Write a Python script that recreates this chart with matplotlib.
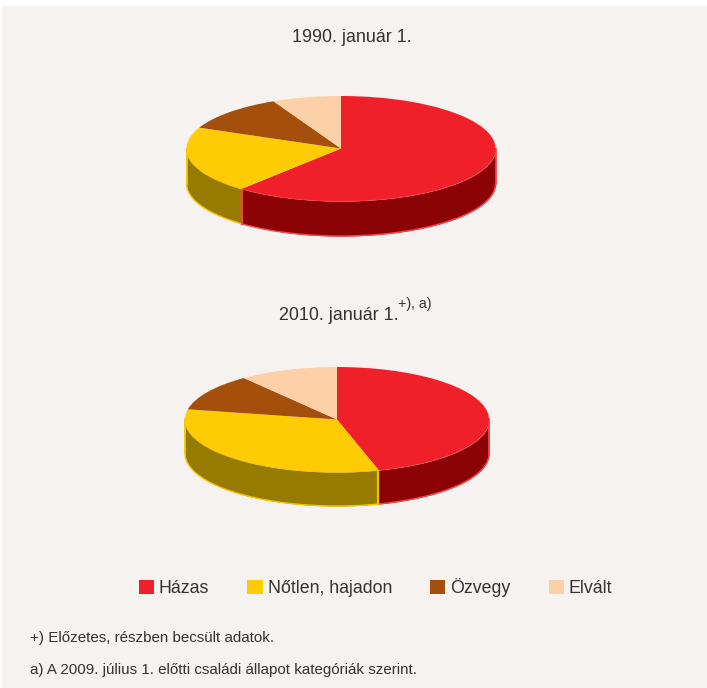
import numpy as np
import matplotlib
matplotlib.use("Agg")
import matplotlib.pyplot as plt
from matplotlib.patches import Patch, Rectangle

W, H = 707, 688

# Configuration
plt.rcParams['font.family'] = ['Liberation Sans', 'DejaVu Sans']
TEXT_COLOR = '#333333'
BACKGROUND = '#f6f2ef'

categories = ['Házas', 'Nőtlen, hajadon', 'Özvegy', 'Elvált']
values_1990 = [61.1, 20.4, 11.3, 7.2]
values_2010 = [45.6, 32.5, 11.4, 10.5]
top_colors = ['#f0202a', '#fdcc04', '#a44f0c', '#fdd0a8']
side_colors = ['#8b0304', '#977a00', '#7a3a08', '#d0a880']
edge_colors = ['#f4444c', '#f5c400', '#a44f0c', '#fdd0a8']
title_1990 = '1990. január 1.'
title_2010 = '2010. január 1.'
title_note = '+), a)'
footnotes = ['+) Előzetes, részben becsült adatok.',
             'a) A 2009. július 1. előtti családi állapot kategóriák szerint.']


def fx(px):
    return px / W


def fy(py):
    return 1 - py / H


def draw_pie(fig, values, cx, cy, rx, ry, depth, seam):
    # axes covers the top ellipse plus the wall, in units of the radius
    d = depth / ry
    ax = fig.add_axes([fx(cx - rx - 3), fy(cy + ry + depth + 3),
                       (2 * rx + 6) / W, (2 * ry + depth + 6) / H])
    ax.pie(values, colors=top_colors, startangle=90, counterclock=False,
           wedgeprops={'linewidth': 0.8, 'edgecolor': 'none'})
    for w in ax.patches:
        w.set_zorder(5)

    # walls: front part of every slice, angles come from the values
    edges = 90 - np.cumsum([0] + list(values)) * 3.6
    for i in range(len(values)):
        theta = np.linspace(edges[i], edges[i + 1], 300)
        wrapped = (theta + 180) % 360 - 180
        front = wrapped[wrapped <= 0]
        if len(front) < 2:
            continue
        t = np.radians(front)
        x = np.cos(t)
        y = np.sin(t)
        ax.fill_between(x, y, y - d, color=side_colors[i], lw=0, zorder=2)
        ax.plot(x, y - d, color=edge_colors[i], lw=1.0, zorder=3)
        ax.plot(x, y, color=edge_colors[i], lw=1.0, zorder=3)

    # outer ends of the wall, left and right
    ax.plot([1, 1], [0, -d], color=edge_colors[0], lw=1.3, zorder=3)
    ax.plot([-1, -1], [0, -d], color=edge_colors[1], lw=1.3, zorder=3)

    # seam between the red and yellow walls
    t = np.radians(edges[1])
    ax.plot([np.cos(t)] * 2, [np.sin(t), np.sin(t) - d], color=edge_colors[seam], lw=1.6, zorder=4)

    ax.set_aspect('auto')
    ax.set_xlim(-1 - 3 / rx, 1 + 3 / rx)
    ax.set_ylim(-1 - d - 3 / ry, 1 + 3 / ry)
    ax.axis('off')


fig = plt.figure(figsize=(W / 100, H / 100), dpi=100, facecolor='white')
fig.add_artist(Rectangle((fx(2), 0), 1, fy(6), transform=fig.transFigure,
                         facecolor=BACKGROUND, edgecolor='none', zorder=-1))

draw_pie(fig, values_1990, 341, 148.5, 154.5, 52.5, 35, 0)
draw_pie(fig, values_2010, 337, 419.5, 152, 52.5, 34, 1)

fig.text(fx(351.5), fy(37), title_1990, ha='center', va='center', fontsize=12.9, color=TEXT_COLOR)
fig.text(fx(338.5), fy(315), title_2010, ha='center', va='center', fontsize=12.9, color=TEXT_COLOR)
fig.text(fx(398), fy(304), title_note, ha='left', va='center', fontsize=10.2, color=TEXT_COLOR)

handles = [Patch(facecolor=c, edgecolor='none') for c in top_colors]
fig.legend(handles, categories, ncol=4, loc='center', bbox_to_anchor=(fx(375.5), fy(587.5)),
           frameon=False, fontsize=12.8, labelcolor=TEXT_COLOR, handlelength=0.85,
           handleheight=0.85, handletextpad=0.28, columnspacing=2.15, borderpad=0)

fig.text(fx(30), fy(638), footnotes[0], ha='left', va='center', fontsize=10.9, color=TEXT_COLOR)
fig.text(fx(30), fy(670), footnotes[1], ha='left', va='center', fontsize=10.9, color=TEXT_COLOR)

fig.savefig('out.png', dpi=100, facecolor='white')
